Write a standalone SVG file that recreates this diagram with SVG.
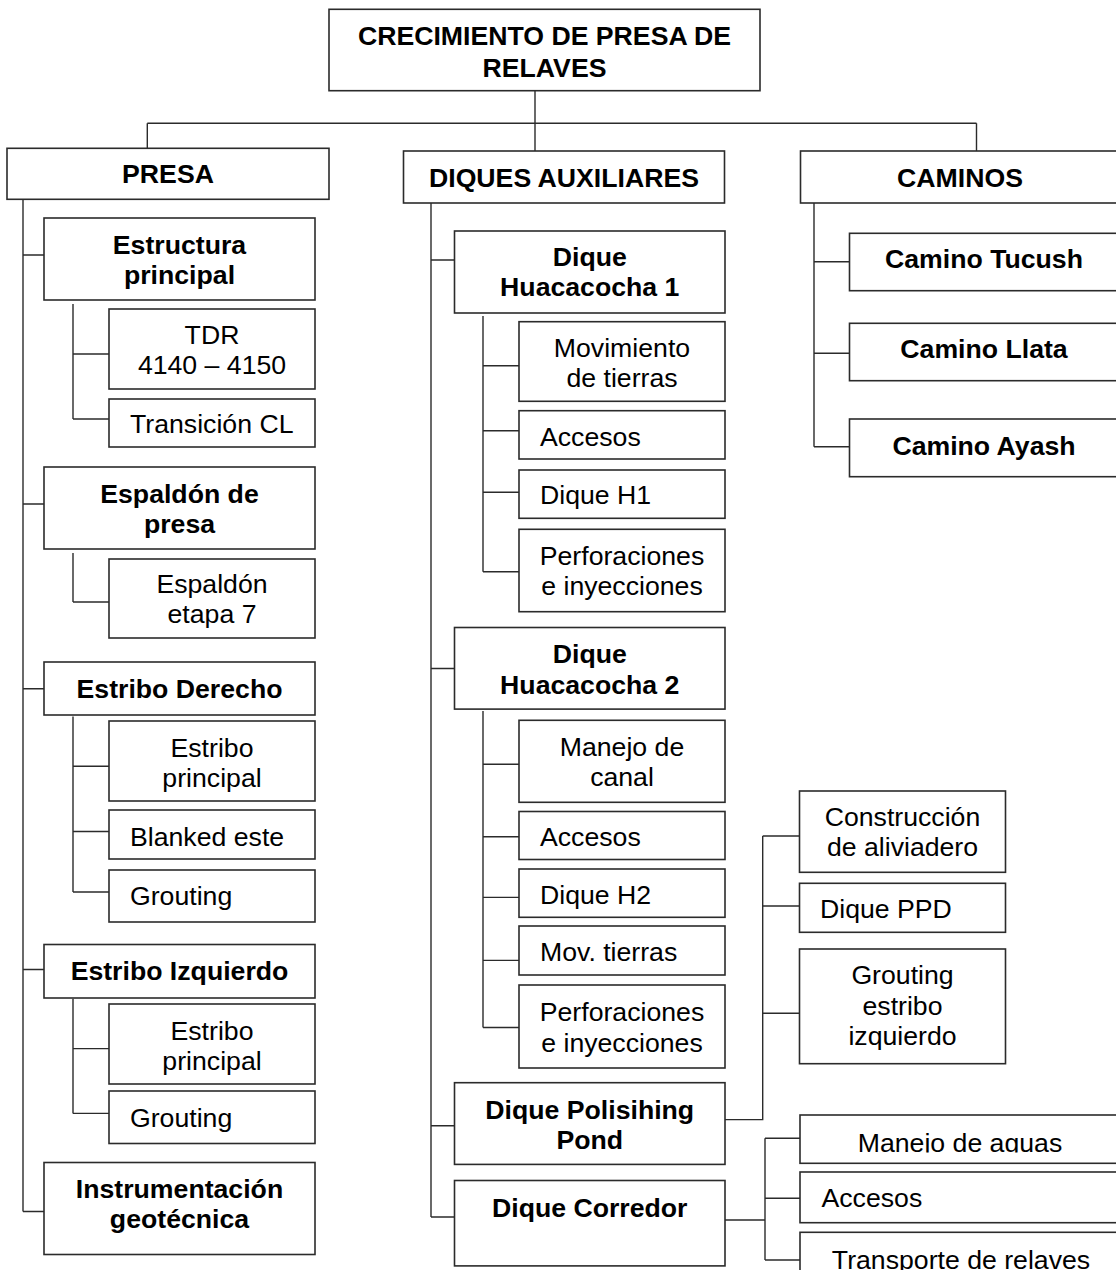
<svg xmlns="http://www.w3.org/2000/svg" width="1116" height="1270" viewBox="0 0 1116 1270">
<style>
.box{fill:#fff;stroke:#2b2b2b;stroke-width:1.6}
.ln{fill:none;stroke:#2b2b2b;stroke-width:1.4}
text{font-family:"Liberation Sans",Arial,sans-serif;font-size:26.67px;fill:#000}
.b{font-weight:bold}
.c{text-anchor:middle}
</style>
<defs>
<clipPath id="clipAguas"><rect x="800" y="1115" width="320" height="37.5"/></clipPath>
</defs>
<rect width="1116" height="1270" fill="#fff"/>
<g id="connectors">
<path class="ln" d="M535,90.7V123.3M147.3,123.3H976.5M147.3,123.3V148.3M535,123.3V151M976.5,123.3V151"/>
<path class="ln" d="M23,199.3V1211.5M23,255H44M23,504H44M23,688.7H44M23,969.5H44M23,1211.5H44"/>
<path class="ln" d="M73,304V419M73,354H109M73,419H109"/>
<path class="ln" d="M73,553V602M73,602H109"/>
<path class="ln" d="M73,716.4V892M73,766.3H109M73,831.5H109M73,892H109"/>
<path class="ln" d="M73,998.7V1113.4M73,1048.6H109M73,1113.4H109"/>
<path class="ln" d="M431,202.7V1217M431,260H454.5M431,668.5H454.5M431,1125.8H454.5M431,1217H454.5"/>
<path class="ln" d="M483,316V571.7M483,365.7H519M483,430.7H519M483,492.3H519M483,571.7H519"/>
<path class="ln" d="M483,711V1027.5M483,764.3H519M483,836.8H519M483,897.4H519M483,960.4H519M483,1027.5H519"/>
<path class="ln" d="M725,1119.6H762.7V836M762.7,836H799.5M762.7,906H799.5M762.7,1013.3H799.5"/>
<path class="ln" d="M725,1220H765M765,1138.3V1260M765,1138.3H800M765,1198.3H800M765,1260H800"/>
<path class="ln" d="M814,202.7V446.7M814,261.7H849.5M814,353.3H849.5M814,446.7H849.5"/>
</g>
<g id="n-root"><rect class="box" x="329" y="9.3" width="431" height="81.4"/><text class="b c" x="544.5" y="45">CRECIMIENTO DE PRESA DE</text><text class="b c" x="544.5" y="76.5">RELAVES</text></g>
<g id="n-presa"><rect class="box" x="7" y="148.3" width="322" height="51"/><text class="b c" x="168" y="183">PRESA</text></g>
<g id="n-diques"><rect class="box" x="403.5" y="151" width="321" height="52"/><text class="b c" x="564" y="186.5">DIQUES AUXILIARES</text></g>
<g id="n-caminos"><rect class="box" x="800.5" y="151" width="320" height="52"/><text class="b c" x="960" y="186.5">CAMINOS</text></g>

<g id="n-estructura"><rect class="box" x="44" y="218" width="271" height="82"/><text class="b c" x="179.5" y="253.5">Estructura</text><text class="b c" x="179.5" y="283.5">principal</text></g>
<g id="n-tdr"><rect class="box" x="109" y="309" width="206" height="80"/><text class="c" x="212" y="344">TDR</text><text class="c" x="212" y="374">4140 – 4150</text></g>
<g id="n-transicion"><rect class="box" x="109" y="399" width="206" height="48"/><text x="130" y="432.5">Transición CL</text></g>
<g id="n-espaldon"><rect class="box" x="44" y="467" width="271" height="82"/><text class="b c" x="179.5" y="502.5">Espaldón de</text><text class="b c" x="179.5" y="532.5">presa</text></g>
<g id="n-espaldon7"><rect class="box" x="109" y="559" width="206" height="79"/><text class="c" x="212" y="593">Espaldón</text><text class="c" x="212" y="623">etapa 7</text></g>
<g id="n-estribod"><rect class="box" x="44" y="662" width="271" height="53"/><text class="b c" x="179.5" y="697.5">Estribo Derecho</text></g>
<g id="n-estribod-p"><rect class="box" x="109" y="721" width="206" height="80"/><text class="c" x="212" y="757">Estribo</text><text class="c" x="212" y="787">principal</text></g>
<g id="n-blanked"><rect class="box" x="109" y="810" width="206" height="49"/><text x="130" y="845.7">Blanked este</text></g>
<g id="n-groutd"><rect class="box" x="109" y="870" width="206" height="52"/><text x="130" y="905">Grouting</text></g>
<g id="n-estriboi"><rect class="box" x="44" y="944.5" width="271" height="53.5"/><text class="b c" x="179.5" y="980">Estribo Izquierdo</text></g>
<g id="n-estriboi-p"><rect class="box" x="109" y="1004" width="206" height="80"/><text class="c" x="212" y="1039.5">Estribo</text><text class="c" x="212" y="1069.5">principal</text></g>
<g id="n-grouti"><rect class="box" x="109" y="1091" width="206" height="52.5"/><text x="130" y="1126.5">Grouting</text></g>
<g id="n-instr"><rect class="box" x="44" y="1162.5" width="271" height="92"/><text class="b c" x="179.5" y="1197.5">Instrumentación</text><text class="b c" x="179.5" y="1228">geotécnica</text></g>

<g id="n-h1"><rect class="box" x="454.5" y="231" width="270.5" height="82"/><text class="b c" x="589.75" y="266">Dique</text><text class="b c" x="589.75" y="296">Huacacocha 1</text></g>
<g id="n-h1-mov"><rect class="box" x="519" y="321.7" width="206" height="79.6"/><text class="c" x="622" y="356.7">Movimiento</text><text class="c" x="622" y="386.5">de tierras</text></g>
<g id="n-h1-acc"><rect class="box" x="519" y="410.7" width="206" height="48.3"/><text x="540" y="446">Accesos</text></g>
<g id="n-h1-dique"><rect class="box" x="519" y="470" width="206" height="48.3"/><text x="540" y="504">Dique H1</text></g>
<g id="n-h1-perf"><rect class="box" x="519" y="529.3" width="206" height="82.4"/><text class="c" x="622" y="564.5">Perforaciones</text><text class="c" x="622" y="595">e inyecciones</text></g>
<g id="n-h2"><rect class="box" x="454.5" y="627.5" width="270.5" height="81.6"/><text class="b c" x="589.75" y="663">Dique</text><text class="b c" x="589.75" y="693.5">Huacacocha 2</text></g>
<g id="n-h2-canal"><rect class="box" x="519" y="720.3" width="206" height="82"/><text class="c" x="622" y="755.5">Manejo de</text><text class="c" x="622" y="785.5">canal</text></g>
<g id="n-h2-acc"><rect class="box" x="519" y="811.5" width="206" height="48"/><text x="540" y="846">Accesos</text></g>
<g id="n-h2-dique"><rect class="box" x="519" y="869" width="206" height="48.3"/><text x="540" y="904">Dique H2</text></g>
<g id="n-h2-mov"><rect class="box" x="519" y="926" width="206" height="49"/><text x="540" y="961">Mov. tierras</text></g>
<g id="n-h2-perf"><rect class="box" x="519" y="985" width="206" height="83"/><text class="c" x="622" y="1021">Perforaciones</text><text class="c" x="622" y="1051.5">e inyecciones</text></g>
<g id="n-ppd"><rect class="box" x="454.5" y="1082.7" width="270.5" height="81.7"/><text class="b c" x="589.75" y="1119">Dique Polisihing</text><text class="b c" x="589.75" y="1148.5">Pond</text></g>
<g id="n-corredor"><rect class="box" x="454.5" y="1180.5" width="270.5" height="85.4"/><text class="b c" x="589.75" y="1217">Dique Corredor</text></g>

<g id="n-alivia"><rect class="box" x="799.5" y="791" width="206" height="81.3"/><text class="c" x="902.5" y="826">Construcción</text><text class="c" x="902.5" y="856">de aliviadero</text></g>
<g id="n-dppd"><rect class="box" x="799.5" y="883.3" width="206" height="49"/><text x="820" y="918.3">Dique PPD</text></g>
<g id="n-groutei"><rect class="box" x="799.5" y="949" width="206" height="114.7"/><text class="c" x="902.5" y="984">Grouting</text><text class="c" x="902.5" y="1014.5">estribo</text><text class="c" x="902.5" y="1045">izquierdo</text></g>
<g id="n-aguas"><rect class="box" x="800" y="1115" width="320" height="48.3"/><text class="c" x="960" y="1151.5" clip-path="url(#clipAguas)">Manejo de aguas</text></g>
<g id="n-cacc"><rect class="box" x="800" y="1172" width="320" height="50.7"/><text x="821.5" y="1207.3">Accesos</text></g>
<g id="n-transp"><rect class="box" x="800" y="1232.3" width="320" height="60"/><text class="c" x="961" y="1269">Transporte de relaves</text></g>

<g id="n-tucush"><rect class="box" x="849.5" y="233.3" width="270" height="57.4"/><text class="b c" x="984" y="268.3">Camino Tucush</text></g>
<g id="n-llata"><rect class="box" x="849.5" y="323.3" width="270" height="57.4"/><text class="b c" x="984" y="358.3">Camino Llata</text></g>
<g id="n-ayash"><rect class="box" x="849.5" y="419" width="270" height="57.7"/><text class="b c" x="984" y="455">Camino Ayash</text></g>
</svg>
